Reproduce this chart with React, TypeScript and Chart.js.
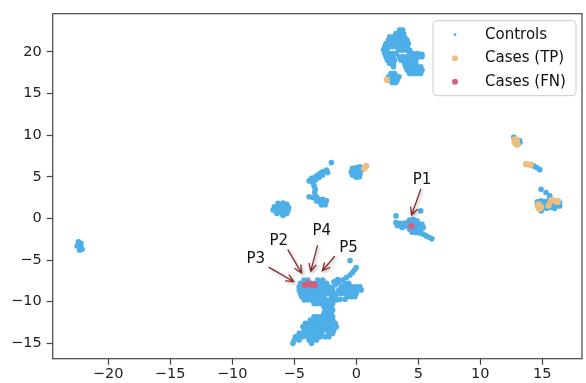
import { useEffect, useRef } from 'react';
import { Chart, registerables } from 'chart.js';
Chart.register(...registerables);

const xTicks = [-20, -15, -10, -5, 0, 5, 10, 15];
const yTicks = [-15, -10, -5, 0, 5, 10, 15, 20];
const xRange = [-24.47, 18.2];
const yRange = [-16.84, 24.57];
const seriesNames = ['Controls', 'Cases (TP)', 'Cases (FN)'];

const controlsTop = [
  [3.5, 22.6], [3.75, 22.6],
  [3.2, 22.2], [3.5, 22.2], [3.8, 22.2],
  [2.7, 21.8], [3.0, 21.8], [3.3, 21.8], [3.6, 21.8], [3.9, 21.8],
  [2.6, 21.4], [2.9, 21.4], [3.2, 21.4], [3.5, 21.4], [3.8, 21.4], [4.1, 21.4],
  [2.4, 21.0], [2.7, 21.0], [3.0, 21.0], [3.3, 21.0], [3.6, 21.0], [3.9, 21.0], [4.2, 21.0],
  [2.3, 20.6], [2.6, 20.6], [2.9, 20.6], [3.2, 20.6], [3.5, 20.6], [3.8, 20.6], [4.1, 20.6],
  [2.2, 20.2], [2.5, 20.2], [3.4, 20.2], [3.7, 20.2], [4.0, 20.2], [4.3, 20.2],
  [2.3, 19.8], [2.6, 19.8], [2.9, 19.8], [3.2, 19.8], [4.3, 19.8], [4.6, 19.8], [4.95, 19.8], [5.3, 19.7],
  [2.4, 19.4], [2.7, 19.4], [3.0, 19.4], [3.5, 19.4], [3.8, 19.4], [4.1, 19.4], [4.4, 19.4], [4.7, 19.4], [5.0, 19.4], [5.3, 19.4],
  [2.5, 19.0], [2.8, 19.0], [3.1, 19.0], [3.6, 19.0], [3.9, 19.0], [4.2, 19.0], [4.5, 19.0], [4.8, 19.0],
  [2.7, 18.6], [3.0, 18.6], [3.9, 18.6], [4.2, 18.6], [4.5, 18.6], [4.8, 18.6],
  [3.0, 18.2], [4.0, 18.2], [4.3, 18.2], [4.6, 18.2], [4.9, 18.2], [5.2, 18.2],
  [4.1, 17.8], [4.4, 17.8], [4.7, 17.8], [5.0, 17.8], [5.3, 17.8],
  [4.3, 17.4], [4.6, 17.4], [4.9, 17.4], [5.2, 17.4],
  [2.8, 17.4], [3.1, 17.4],
  [2.6, 17.0], [2.9, 17.0], [3.2, 17.0], [3.45, 17.0],
  [2.7, 16.6], [3.0, 16.6], [3.3, 16.6],
  [2.9, 16.3], [3.2, 16.3],
];

const controlsCentre = [
  // near x = 0
  [-0.3, 6.0], [0.0, 6.1], [0.3, 6.2], [-0.4, 5.6], [-0.1, 5.6], [0.2, 5.7], [0.45, 5.8],
  [-0.3, 5.2], [0.0, 5.3], [0.3, 5.3], [0.0, 4.95], [0.25, 5.0],
  // streak near x = -3
  [-2.4, 5.8], [-2.7, 5.6], [-2.3, 5.5], [-2.9, 5.4], [-3.1, 5.2], [-2.7, 5.2], [-3.3, 5.0],
  [-3.0, 4.9], [-3.6, 4.8], [-3.3, 4.6], [-3.8, 4.5], [-3.5, 4.3], [-3.4, 3.9], [-3.3, 3.5], [-3.35, 3.1],
  [-3.8, 2.6], [-3.5, 2.5], [-3.2, 2.6], [-3.0, 2.3], [-2.7, 2.3], [-3.2, 2.1], [-2.9, 1.9],
  [-2.6, 1.9], [-2.4, 2.1], [-2.8, 1.6], [-2.5, 1.6],
  [-2.0, 6.7],
  // blob near x = -6
  [-6.3, 1.8], [-5.9, 1.85], [-5.6, 1.7], [-6.6, 1.4], [-6.2, 1.4], [-5.8, 1.45], [-5.45, 1.3],
  [-6.7, 1.0], [-6.3, 1.0], [-5.9, 1.0], [-5.5, 0.95], [-6.4, 0.6], [-6.0, 0.6], [-5.6, 0.6], [-5.9, 0.35],
  // far left
  [-22.4, -2.8], [-22.2, -3.0], [-22.5, -3.3], [-22.2, -3.4], [-22.3, -3.8], [-22.1, -3.7],
];

const controlsP1 = [
  [4.3, -0.2], [4.6, -0.15], [4.9, -0.3], [4.1, -0.5], [4.4, -0.55], [4.7, -0.55], [5.0, -0.6], [5.3, -0.7],
  [4.2, -0.9], [4.5, -0.95], [4.8, -0.9], [5.1, -1.0], [5.4, -1.1], [4.3, -1.3], [4.6, -1.3], [4.9, -1.35],
  [5.2, -1.4], [4.5, -1.65], [4.8, -1.7], [5.1, -1.75],
  [3.2, -0.5], [3.5, -0.6], [3.8, -0.6], [3.3, -0.85], [3.6, -0.9], [3.9, -0.95], [3.7, -1.1],
  [5.4, -1.9], [5.65, -2.1], [5.9, -2.3], [6.1, -2.45],
  [3.2, 0.3], [5.2, 0.9],
];

const controlsRight = [
  [12.7, 9.75], [13.2, 9.1], [13.15, 9.35],
  [14.3, 6.3], [14.55, 6.1], [14.8, 5.85],
  [14.9, 3.5], [15.3, 3.1], [15.6, 2.7],
  [14.6, 2.0], [14.9, 2.1], [15.2, 2.0], [15.5, 2.1], [14.6, 1.6], [15.0, 1.6], [15.3, 1.6],
  [15.8, 1.8], [16.1, 1.7], [16.4, 1.5], [15.0, 1.2], [15.35, 1.2], [15.7, 1.3], [16.0, 1.2], [14.9, 0.9], [16.4, 1.9],
];

const controlsLower = [
  // upper part
  [-4.2, -7.4], [-3.9, -7.4], [-3.1, -7.4], [-2.7, -7.4],
  [-4.5, -7.8], [-4.2, -7.8], [-3.9, -7.8], [-3.6, -7.8], [-3.3, -7.8], [-3.0, -7.8], [-2.7, -7.8], [-2.4, -7.8],
  [-4.6, -8.2], [-4.3, -8.2], [-4.0, -8.2], [-3.7, -8.2], [-3.4, -8.2], [-3.1, -8.2], [-2.8, -8.2], [-2.5, -8.2], [-2.2, -8.2],
  [-4.6, -8.6], [-4.3, -8.6], [-4.0, -8.6], [-3.7, -8.6], [-3.4, -8.6], [-3.1, -8.6], [-2.8, -8.6], [-2.5, -8.6], [-2.2, -8.6], [-1.9, -8.6],
  [-4.5, -9.0], [-4.2, -9.0], [-3.9, -9.0], [-3.6, -9.0], [-3.3, -9.0], [-3.0, -9.0], [-2.7, -9.0], [-2.4, -9.0], [-2.1, -9.0], [-1.8, -9.0], [-1.5, -9.0],
  [-4.4, -9.4], [-4.1, -9.4], [-3.8, -9.4], [-3.5, -9.4], [-3.2, -9.4], [-2.9, -9.4], [-2.6, -9.4], [-2.0, -9.4], [-1.7, -9.4],
  [-4.2, -9.8], [-3.9, -9.8], [-3.6, -9.8], [-3.3, -9.8], [-3.0, -9.8], [-2.7, -9.8], [-2.4, -9.8], [-2.0, -9.8], [-1.6, -9.8],
  [-3.4, -10.2], [-3.1, -10.2], [-2.8, -10.2], [-2.5, -10.2], [-2.2, -10.2], [-1.9, -10.2],
  // diagonal streak
  [-2.0, -8.3], [-1.7, -8.0], [-1.4, -7.7], [-1.1, -7.4], [-0.8, -7.1], [-0.5, -6.8], [-0.3, -6.5],
  [-0.15, -6.2], [0.0, -5.9], [-1.8, -7.6], [-1.5, -7.35], [-0.5, -5.05],
  // right blob
  [-0.9, -7.8], [-0.6, -7.8],
  [-1.2, -8.2], [-0.9, -8.2], [-0.6, -8.2], [-0.3, -8.2], [0.0, -8.2], [0.3, -8.2],
  [-1.4, -8.6], [-1.1, -8.6], [-0.8, -8.6], [-0.5, -8.6], [-0.2, -8.6], [0.1, -8.6], [0.4, -8.6],
  [-1.2, -9.0], [-0.9, -9.0], [-0.6, -9.0], [-0.3, -9.0], [0.0, -9.0],
  [-0.7, -9.4], [-0.4, -9.4], [-0.1, -9.4], [-1.3, -9.7], [-0.9, -9.7],
  // neck
  [-2.6, -10.6], [-2.3, -10.6], [-2.0, -10.6], [-2.5, -11.0], [-2.2, -11.0], [-1.9, -11.0],
  [-2.6, -11.4], [-2.3, -11.4], [-2.0, -11.4],
  // lower blob
  [-3.4, -11.8], [-3.1, -11.8], [-2.8, -11.8], [-2.5, -11.8], [-2.2, -11.8], [-1.9, -11.8],
  [-3.7, -12.2], [-3.4, -12.2], [-3.1, -12.2], [-2.8, -12.2], [-2.5, -12.2], [-2.2, -12.2], [-1.9, -12.2],
  [-4.1, -12.6], [-3.8, -12.6], [-3.5, -12.6], [-3.2, -12.6], [-2.9, -12.6], [-2.6, -12.6], [-2.3, -12.6], [-2.0, -12.6], [-1.7, -12.6],
  [-4.3, -13.0], [-4.0, -13.0], [-3.7, -13.0], [-3.4, -13.0], [-3.1, -13.0], [-2.8, -13.0], [-2.5, -13.0], [-2.2, -13.0], [-1.9, -13.0], [-1.6, -13.0],
  [-4.2, -13.4], [-3.9, -13.4], [-3.6, -13.4], [-3.3, -13.4], [-3.0, -13.4], [-2.7, -13.4], [-2.4, -13.4], [-2.1, -13.4], [-1.8, -13.4],
  [-4.6, -13.8], [-4.3, -13.8], [-4.0, -13.8], [-3.7, -13.8], [-3.4, -13.8], [-3.1, -13.8], [-2.8, -13.8], [-2.2, -13.8], [-1.9, -13.8],
  [-4.9, -14.2], [-4.6, -14.2], [-4.3, -14.2], [-3.9, -14.2], [-3.6, -14.2], [-3.3, -14.2], [-2.9, -14.2], [-2.5, -14.2], [-2.2, -14.2],
  [-5.0, -14.6], [-4.6, -14.6], [-3.8, -14.6], [-3.5, -14.6], [-3.2, -14.6],
  [-5.1, -15.0], [-3.6, -15.0],
];

const casesTP = [
  [2.47, 16.65], [0.65, 6.0], [0.8, 6.3],
  [12.8, 9.5], [12.95, 9.3], [12.85, 9.0], [13.0, 8.85], [12.75, 9.2],
  [13.7, 6.5], [14.05, 6.45],
  [14.65, 1.45], [14.75, 1.15], [14.9, 1.35], [14.7, 1.7], [15.5, 1.55], [15.7, 2.1], [15.8, 2.2], [16.25, 2.1], [16.2, 1.95],
];

const casesFN = [[4.45, -0.95], [-4.15, -8.0], [-3.85, -7.85], [-3.6, -7.95], [-3.35, -8.0]];

const annLabels = ['P1', 'P2', 'P3', 'P4', 'P5'];
const annText = [[5.3, 4.55], [-6.25, -2.7], [-8.1, -4.85], [-2.78, -1.55], [-0.62, -3.53]];
const annTail = [[5.2, 3.5], [-5.5, -3.77], [-7.03, -5.88], [-3.13, -3.26], [-1.75, -4.57]];
const annHead = [[4.46, 0.4], [-4.41, -6.55], [-5.05, -7.58], [-3.67, -6.35], [-2.73, -6.28]];

const colors = ['#4DAEE8', '#EDBE7E', '#D65F7B'];
const FONT = '"DejaVu Sans", sans-serif';

const toPts = (arr: number[][]) => arr.map(([x, y]) => ({ x, y }));
const fmt = (v: number) => (v < 0 ? '\u2212' + Math.abs(v) : String(v));

const overlay = {
  id: 'overlay',
  afterDatasetsDraw(chart: any) {
    const { ctx, chartArea: a, scales } = chart;
    const xs = scales.x, ys = scales.y;
    ctx.save();
    annLabels.forEach((lab, i) => {
      const tx = xs.getPixelForValue(annTail[i][0]);
      const ty = ys.getPixelForValue(annTail[i][1]);
      const hx = xs.getPixelForValue(annHead[i][0]);
      const hy = ys.getPixelForValue(annHead[i][1]);
      ctx.save();
      ctx.shadowColor = 'rgba(0,0,0,0.3)';
      ctx.shadowBlur = 3;
      ctx.shadowOffsetX = 1.5;
      ctx.shadowOffsetY = 1.5;
      ctx.strokeStyle = '#8B2A2A';
      ctx.lineWidth = 1.3;
      ctx.lineCap = 'round';
      ctx.beginPath();
      ctx.moveTo(tx, ty);
      ctx.lineTo(hx, hy);
      const ang = Math.atan2(hy - ty, hx - tx);
      const L = 8, w = 0.45;
      ctx.moveTo(hx - L * Math.cos(ang - w), hy - L * Math.sin(ang - w));
      ctx.lineTo(hx, hy);
      ctx.lineTo(hx - L * Math.cos(ang + w), hy - L * Math.sin(ang + w));
      ctx.stroke();
      ctx.restore();
      ctx.fillStyle = '#111';
      ctx.font = `15px ${FONT}`;
      ctx.textAlign = 'center';
      ctx.textBaseline = 'middle';
      ctx.fillText(lab, xs.getPixelForValue(annText[i][0]), ys.getPixelForValue(annText[i][1]));
    });
    ctx.strokeStyle = '#444';
    ctx.lineWidth = 1.2;
    ctx.strokeRect(a.left, a.top, a.right - a.left, a.bottom - a.top);
    const bw = 143, bh = 75;
    const bx = a.right - bw - 6, by = a.top + 7;
    ctx.beginPath();
    ctx.roundRect(bx, by, bw, bh, 4);
    ctx.fillStyle = 'rgba(255,255,255,0.85)';
    ctx.fill();
    ctx.strokeStyle = '#cccccc';
    ctx.lineWidth = 1;
    ctx.stroke();
    const radii = [1.4, 3, 3];
    seriesNames.forEach((name, i) => {
      const cy = by + 14 + i * 23.5;
      ctx.beginPath();
      ctx.arc(bx + 22, cy, radii[i], 0, Math.PI * 2);
      ctx.fillStyle = colors[i];
      ctx.fill();
      ctx.fillStyle = '#111';
      ctx.font = `15px ${FONT}`;
      ctx.textAlign = 'left';
      ctx.textBaseline = 'middle';
      ctx.fillText(name, bx + 52, cy);
    });
    ctx.restore();
  },
};

export default function App() {
  const ref = useRef<HTMLCanvasElement>(null);
  useEffect(() => {
    if (!ref.current) return;
    const controls = [...controlsTop, ...controlsCentre, ...controlsP1, ...controlsRight, ...controlsLower];
    const tickCommon = {
      font: { family: FONT, size: 14.5 },
      color: '#222',
      autoSkip: false,
      maxRotation: 0,
      callback: (v: any) => fmt(Number(v)),
    };
    const grid = { drawOnChartArea: false, drawTicks: true, tickLength: 6, tickWidth: 1.2, tickColor: '#444' };
    const chart = new Chart(ref.current, {
      type: 'scatter',
      data: {
        datasets: [
          { label: seriesNames[0], data: toPts(controls), backgroundColor: colors[0], pointRadius: 2.8, borderWidth: 0, order: 3 },
          { label: seriesNames[1], data: toPts(casesTP), backgroundColor: colors[1], pointRadius: 3.2, borderWidth: 0, order: 2 },
          { label: seriesNames[2], data: toPts(casesFN), backgroundColor: colors[2], pointRadius: 3.2, borderWidth: 0, order: 1 },
        ],
      },
      options: {
        animation: false,
        responsive: false,
        devicePixelRatio: 1,
        layout: { padding: { top: 11.7, right: 2, left: 0, bottom: 0 } },
        plugins: { legend: { display: false }, tooltip: { enabled: false } },
        scales: {
          x: {
            type: 'linear',
            min: xRange[0],
            max: xRange[1],
            afterBuildTicks: (s: any) => { s.ticks = xTicks.map((v) => ({ value: v })); },
            afterFit: (s: any) => { s.height = 24.3; },
            grid,
            border: { display: false },
            ticks: { ...tickCommon, padding: 1 },
          },
          y: {
            type: 'linear',
            min: yRange[0],
            max: yRange[1],
            afterBuildTicks: (s: any) => { s.ticks = yTicks.map((v) => ({ value: v })); },
            afterFit: (s: any) => { s.width = 52.7; },
            grid,
            border: { display: false },
            ticks: { ...tickCommon, padding: 5 },
          },
        },
      },
      plugins: [overlay],
    } as any);
    return () => chart.destroy();
  }, []);
  return (
    <canvas
      ref={ref}
      width={586}
      height={383}
      style={{ position: 'absolute', left: 0, top: 0, display: 'block', width: 586, height: 383 }}
    />
  );
}
